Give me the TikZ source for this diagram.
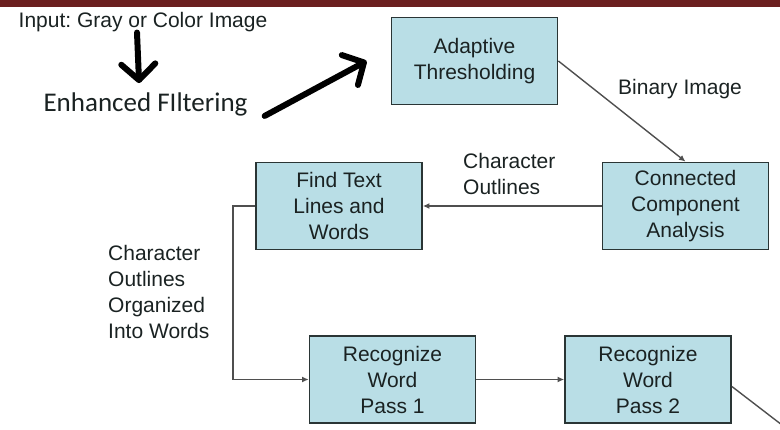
\documentclass[tikz,border=0pt]{standalone}
\usepackage{fontspec}
\setmainfont{Liberation Sans}
\newfontfamily\calfont{Carlito}
\usepackage{xcolor}
\usepackage{tikz}
\usetikzlibrary{arrows.meta}
\frenchspacing
\definecolor{barred}{HTML}{6B1F1F}
\definecolor{boxfill}{HTML}{B9DEE6}
\definecolor{boxline}{HTML}{2A3535}
\definecolor{linkgray}{HTML}{4F4F4F}
\definecolor{textdark}{HTML}{1A2222}
\tikzset{box/.style={draw=boxline,line width=1.8pt,fill=boxfill,minimum width=166pt,minimum height=87pt,
  align=center,text=textdark,font=\fontsize{21}{26}\selectfont},
link/.style={-{Latex[length=6.5pt,width=6pt]},draw=linkgray,line width=1.4pt},
lbl/.style={align=left,text=textdark,inner sep=0pt,font=\fontsize{21}{26}\selectfont},
bigarrow/.style={line width=6pt,line cap=round,-{Straight Barb[round,length=16pt,width=34pt]}}}

\begin{document}
\begin{tikzpicture}[x=1pt,y=-1pt]
\useasboundingbox (0,0) rectangle (780,430);
\fill[barred] (0,0) rectangle (780,7);
% process boxes
\node[box] (adapt) at (474.5,61) {Adaptive\\Thresholding};
\node[box] (conn) at (685.5,206) {Connected\\Component\\Analysis};
\node[box] (find) at (339,206) {Find Text\\Lines and\\Words};
\node[box] (pass1) at (392.5,379.5) {Recognize\\Word\\Pass 1};
\node[box] (pass2) at (648,379.5) {Recognize\\Word\\Pass 2};
% input part, hand drawn arrows
\node[lbl,anchor=base] (input) at (143,28) {Input: Gray or Color Image};
\node[lbl,anchor=base,font=\calfont\fontsize{27}{30}\selectfont] (enh) at (145.5,112) {Enhanced FIltering};
\draw[bigarrow,shorten >=10pt] ([xshift=-6pt]input.south) -- ([xshift=-6pt]enh.north);
\draw[bigarrow] ([xshift=17pt,yshift=-11pt]enh.east) -- ([xshift=-24pt]adapt.west);
% connectors
\coordinate (outend) at (782,425);
\draw[link] (adapt.east) -- (conn.north);
\draw[link] (conn.west) -- (find.east);
\draw[link] (find.west) -- ++(-22,0) |- (pass1.west);
\draw[link] (pass1.east) -- (pass2.west);
\draw[draw=linkgray,line width=1.4pt] ([yshift=-7pt]pass2.east) -- (outend);
% edge labels
\node[lbl,anchor=west] (binlbl) at (618,89) {Binary Image};
\node[lbl,anchor=west] (outlbl) at (463,174) {Character\\Outlines};
\node[lbl,anchor=west] (wordlbl) at (108,291.5) {Character\\Outlines\\Organized\\Into Words};
\end{tikzpicture}
\end{document}
